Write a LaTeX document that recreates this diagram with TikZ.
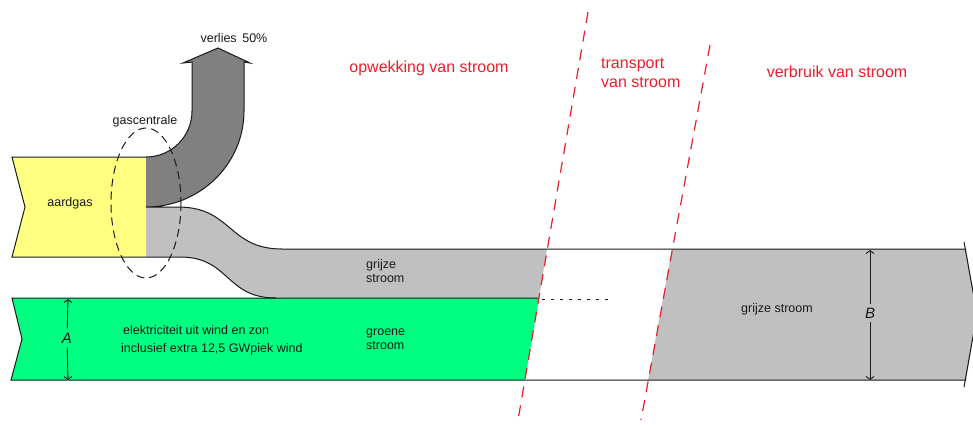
\documentclass[tikz,border=0pt]{standalone}
\usepackage{fontspec}
\setmainfont{Liberation Sans}
\usetikzlibrary{arrows.meta}
\definecolor{gasyellow}{HTML}{FFFF80}
\definecolor{greenflow}{HTML}{00FF80}
\definecolor{grayflow}{HTML}{C0C0C0}
\definecolor{lossgray}{HTML}{808080}
\definecolor{zonered}{HTML}{E8202A}
\definecolor{ink}{HTML}{1A1A1A}
\begin{document}
\begin{tikzpicture}[x=1pt,y=-1pt,
  edge/.style={draw=ink,line width=1pt},
  lbl/.style={font=\fontsize{12.5}{14}\selectfont,text=ink,inner sep=0pt},
  zonelbl/.style={font=\fontsize{16}{19}\selectfont,text=zonered,inner sep=0pt},
  zoneline/.style={draw=zonered,line width=1.2pt,dash pattern=on 11pt off 8pt},
  dimarrow/.style={draw=ink,line width=0.9pt,-{Straight Barb[length=3pt,width=8pt]}},
  dimlbl/.style={font=\itshape\fontsize{15}{16}\selectfont,text=ink,inner sep=4pt}
]
\useasboundingbox (0,0) rectangle (973,424);
\fill[white] (0,0) rectangle (973,424);

% ---------- fills ----------
% light gray S band (grijze stroom, generation part)
\fill[grayflow] (146,207) -- (178,207) .. controls (232,207) and (228,249) .. (282,249)
  -- (547,249) -- (539,298) -- (276,298)
  .. controls (225,298) and (230,257) .. (180,257) -- (146,257) -- cycle;
% green band
\fill[greenflow] (12,298) -- (539,298) -- (525,380) -- (11,380) -- (22,339) -- cycle;
% right gray band (consumption)
\fill[grayflow] (672,249) -- (966,249) -- (977,314) -- (966,380) -- (648,380) -- cycle;
% yellow gas input
\fill[gasyellow] (12,157) -- (146,157) -- (146,257) -- (12,257) -- (25,207) -- cycle;
% dark gray loss arrow
\fill[lossgray] (146,157) arc[start angle=90,end angle=0,radius=46] -- (192,62) -- (183,63)
  -- (218,48) -- (250,63) -- (244,62) -- (244,111)
  arc[start angle=0,end angle=90,x radius=98,y radius=96] -- cycle;

% ---------- outlines ----------
\draw[edge] (146,157) -- (12,157) -- (25,207) -- (12,257) -- (180,257)
  .. controls (230,257) and (225,298) .. (276,298);
\draw[edge] (146,157) arc[start angle=90,end angle=0,radius=46] -- (192,62) -- (183,63)
  -- (218,48) -- (250,63) -- (244,62) -- (244,111)
  arc[start angle=0,end angle=90,x radius=98,y radius=96]
  -- (178,207) .. controls (232,207) and (228,249) .. (282,249) -- (966,249);
\draw[edge] (539,298) -- (12,298) -- (22,339) -- (11,380) -- (966,380);
\draw[edge] (964,242) -- (977,314) -- (964,387);
\draw[ink,line width=1pt,dash pattern=on 3pt off 6pt] (542,299) -- (612,299);

% ---------- zone separators ----------
\draw[zoneline] (588,12) -- (518,420);
\draw[zoneline] (710,45) -- (641,420);

% ---------- gas plant ellipse ----------
\draw[ink,line width=1pt,dash pattern=on 8pt off 5pt] (146,203) ellipse [x radius=35,y radius=75];

% ---------- labels ----------
\node[lbl] (loss) at (234,38) {verlies\hspace{0.45em}50\%};
\node[lbl] (plant) at (145,121) {gascentrale};
\node[lbl] (gas) at (70,203) {aardgas};
\node[lbl,anchor=west,align=left] (grey1) at (366,271) {grijze\\stroom};
\node[lbl,anchor=west,align=left] (green1) at (366,339) {groene\\stroom};
\node[lbl,anchor=west,align=left,font=\fontsize{12.5}{18}\selectfont] (windsun) at (121,340)
  {\hspace{2pt}elektriciteit uit wind en zon\\inclusief extra 12,5 GWpiek wind};
\node[lbl] (grey2) at (777,309) {grijze stroom};
\node[zonelbl] (gen) at (429,68) {opwekking van stroom};
\node[zonelbl,anchor=west,align=left] (trans) at (601,73) {transport\\van stroom};
\node[zonelbl] (use) at (837,72) {verbruik van stroom};

% ---------- dimension arrows ----------
\node[dimlbl] (A) at (67,338) {A};
\coordinate (Atop) at (68,299);
\coordinate (Abot) at (68,380);
\draw[dimarrow] (A) -- (Atop);
\draw[dimarrow] (A) -- (Abot);
\node[dimlbl] (B) at (870,313) {B};
\coordinate (Btop) at (870,250);
\coordinate (Bbot) at (870,380);
\draw[dimarrow] (B) -- (Btop);
\draw[dimarrow] (B) -- (Bbot);
\end{tikzpicture}
\end{document}
